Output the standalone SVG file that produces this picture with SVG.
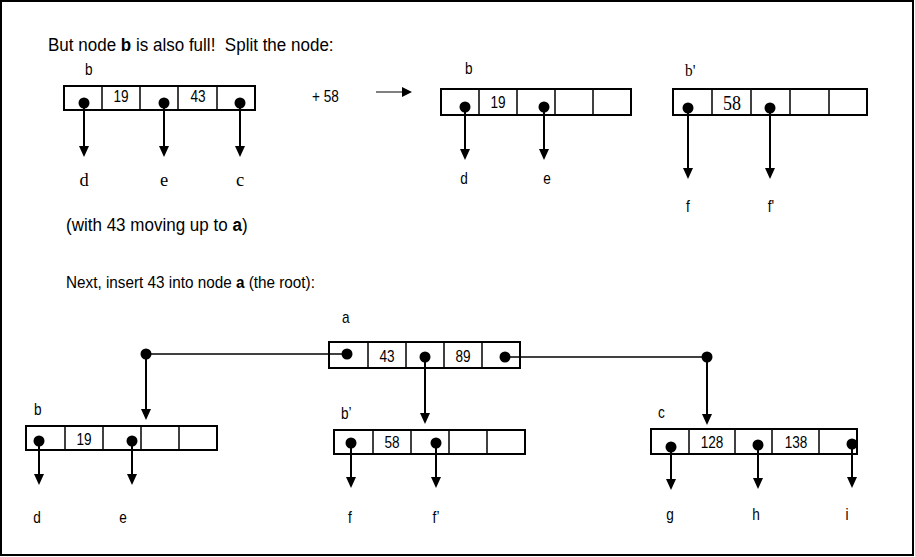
<svg xmlns="http://www.w3.org/2000/svg" width="915" height="557" viewBox="0 0 915 557">
<style>
.frame{fill:#fff;stroke:#000;stroke-width:2}
.box{fill:#fff;stroke:#000;stroke-width:2}
.div{stroke:#000;stroke-width:1.5}
.ptr{stroke:#000;stroke-width:2;fill:none;marker-end:url(#ah)}
.hl{stroke:#000;stroke-width:1.5;fill:none}
.dot{fill:#000}
.s{font-family:"Liberation Sans",Arial,sans-serif;fill:#000}
.t{font-family:"Liberation Serif","Times New Roman",serif;fill:#000}
.k{font-size:17px;text-anchor:middle}
.lb{font-size:16px}
.c{text-anchor:middle}
</style>
<defs>
<marker id="ah" markerUnits="userSpaceOnUse" markerWidth="11" markerHeight="11" refX="5" refY="5" orient="auto" viewBox="0 0 11 11">
<path d="M0,0 L11,5 L0,10 z" fill="#000"/>
</marker>
</defs>
<rect class="frame" x="1" y="1" width="912" height="554"/>
<text class="s" transform="translate(48,51) scale(0.92,1)" font-size="18.5" xml:space="preserve">But node <tspan font-weight="bold">b</tspan> is also full!  Split the node:</text>
<text class="s" transform="translate(66,231) scale(0.92,1)" font-size="18.5">(with 43 moving up to <tspan font-weight="bold">a</tspan>)</text>
<text class="s" transform="translate(66,288) scale(0.9,1)" font-size="17">Next, insert 43 into node <tspan font-weight="bold">a</tspan> (the root):</text>
<text class="s" transform="translate(312,102) scale(0.85,1)" font-size="16">+ 58</text>
<g id="split-arrow">
<line x1="376" y1="92" x2="403" y2="92" stroke="#808080" stroke-width="2"/>
<path d="M402,87 L412,92 L402,97 z" fill="#000"/>
</g>

<g id="node-b-full">
<text class="s lb" transform="translate(85,75) scale(0.85,1)">b</text>
<rect class="box" x="64" y="86" width="191" height="24"/>
<line class="div" x1="102" y1="86" x2="102" y2="110"/>
<line class="div" x1="140" y1="86" x2="140" y2="110"/>
<line class="div" x1="178" y1="86" x2="178" y2="110"/>
<line class="div" x1="217" y1="86" x2="217" y2="110"/>
<text class="s k" transform="translate(121,102) scale(0.8,1)">19</text>
<text class="s k" transform="translate(198,102) scale(0.8,1)">43</text>
<circle class="dot" cx="84" cy="103" r="5.5"/>
<circle class="dot" cx="164" cy="103" r="5.5"/>
<circle class="dot" cx="240" cy="103" r="5.5"/>
</g>
<g id="node-b-new">
<text class="s lb" transform="translate(465,74) scale(0.85,1)">b</text>
<rect class="box" x="441" y="89" width="190" height="26"/>
<line class="div" x1="479" y1="89" x2="479" y2="115"/>
<line class="div" x1="517" y1="89" x2="517" y2="115"/>
<line class="div" x1="555" y1="89" x2="555" y2="115"/>
<line class="div" x1="593" y1="89" x2="593" y2="115"/>
<text class="s k" transform="translate(498,108) scale(0.8,1)">19</text>
<circle class="dot" cx="465" cy="107" r="5.5"/>
<circle class="dot" cx="544" cy="107" r="5.5"/>
</g>
<g id="node-bp-new">
<text class="t" transform="translate(685,76) scale(0.9,1)" font-size="17">b'</text>
<rect class="box" x="673" y="89" width="194" height="26"/>
<line class="div" x1="712" y1="89" x2="712" y2="115"/>
<line class="div" x1="751" y1="89" x2="751" y2="115"/>
<line class="div" x1="790" y1="89" x2="790" y2="115"/>
<line class="div" x1="829" y1="89" x2="829" y2="115"/>
<text class="t c" transform="translate(732,110) scale(0.9,1)" font-size="20">58</text>
<circle class="dot" cx="688" cy="108" r="5.5"/>
<circle class="dot" cx="770" cy="108" r="5.5"/>
</g>

<g id="node-a">
<text class="s lb" transform="translate(342,323) scale(0.85,1)">a</text>
<rect class="box" x="329" y="342" width="191" height="26"/>
<line class="div" x1="368" y1="342" x2="368" y2="368"/>
<line class="div" x1="406" y1="342" x2="406" y2="368"/>
<line class="div" x1="444" y1="342" x2="444" y2="368"/>
<line class="div" x1="482" y1="342" x2="482" y2="368"/>
<text class="s k" transform="translate(387,362) scale(0.8,1)">43</text>
<text class="s k" transform="translate(463,362) scale(0.8,1)">89</text>
</g>
<g id="node-b">
<text class="s lb" transform="translate(34,415) scale(0.85,1)">b</text>
<rect class="box" x="26" y="426" width="191" height="24"/>
<line class="div" x1="65" y1="426" x2="65" y2="450"/>
<line class="div" x1="103" y1="426" x2="103" y2="450"/>
<line class="div" x1="141" y1="426" x2="141" y2="450"/>
<line class="div" x1="179" y1="426" x2="179" y2="450"/>
<text class="s k" transform="translate(84,445) scale(0.8,1)">19</text>
<circle class="dot" cx="39" cy="441" r="5.5"/>
<circle class="dot" cx="132" cy="441" r="5.5"/>
</g>
<g id="node-bp">
<text class="s lb" transform="translate(341,419) scale(0.85,1)">b’</text>
<rect class="box" x="334" y="430" width="191" height="24"/>
<line class="div" x1="373" y1="430" x2="373" y2="454"/>
<line class="div" x1="411" y1="430" x2="411" y2="454"/>
<line class="div" x1="449" y1="430" x2="449" y2="454"/>
<line class="div" x1="487" y1="430" x2="487" y2="454"/>
<text class="s k" transform="translate(392,448) scale(0.8,1)">58</text>
<circle class="dot" cx="351" cy="443" r="5.5"/>
<circle class="dot" cx="436" cy="443" r="5.5"/>
</g>
<g id="node-c">
<text class="s lb" transform="translate(658,418) scale(0.85,1)">c</text>
<rect class="box" x="651" y="429" width="206" height="25"/>
<line class="div" x1="689" y1="429" x2="689" y2="454"/>
<line class="div" x1="735" y1="429" x2="735" y2="454"/>
<line class="div" x1="772" y1="429" x2="772" y2="454"/>
<line class="div" x1="819" y1="429" x2="819" y2="454"/>
<text class="s k" transform="translate(712,448) scale(0.8,1)">128</text>
<text class="s k" transform="translate(796,448) scale(0.8,1)">138</text>
<circle class="dot" cx="671" cy="447" r="5.5"/>
<circle class="dot" cx="758" cy="445" r="5.5"/>
<circle class="dot" cx="852" cy="444" r="5.5"/>
</g>

<g id="leaves">
<text class="t c" x="84" y="186" font-size="18.5">d</text>
<text class="t c" x="164" y="186" font-size="18.5">e</text>
<text class="t c" x="240" y="186" font-size="18.5">c</text>
<text class="s lb c" transform="translate(464,184) scale(0.85,1)">d</text>
<text class="s lb c" transform="translate(547,184) scale(0.85,1)">e</text>
<text class="s lb c" transform="translate(688,212) scale(0.85,1)">f</text>
<text class="s lb c" transform="translate(771,212) scale(0.85,1)">f'</text>
<text class="s lb c" transform="translate(37,523) scale(0.85,1)">d</text>
<text class="s lb c" transform="translate(123,523) scale(0.85,1)">e</text>
<text class="s lb c" transform="translate(350,523) scale(0.85,1)">f</text>
<text class="s lb c" transform="translate(436,523) scale(0.85,1)">f’</text>
<text class="s lb c" transform="translate(670,520) scale(0.85,1)">g</text>
<text class="s lb c" transform="translate(756,520) scale(0.85,1)">h</text>
<text class="s lb c" transform="translate(847,520) scale(0.85,1)">i</text>
</g>

<g id="connectors">
<line class="ptr" x1="84" y1="103" x2="84" y2="151"/>
<line class="ptr" x1="164" y1="103" x2="164" y2="151"/>
<line class="ptr" x1="240" y1="103" x2="240" y2="151"/>
<line class="ptr" x1="465" y1="107" x2="465" y2="154"/>
<line class="ptr" x1="544" y1="107" x2="544" y2="154"/>
<line class="ptr" x1="688" y1="108" x2="688" y2="173"/>
<line class="ptr" x1="770" y1="108" x2="770" y2="173"/>
<line class="hl" x1="146" y1="354" x2="347" y2="354"/>
<circle class="dot" cx="146" cy="354" r="5.5"/>
<circle class="dot" cx="347" cy="354" r="5.5"/>
<line class="ptr" x1="146" y1="354" x2="146" y2="414"/>
<circle class="dot" cx="425" cy="357" r="5.5"/>
<line class="ptr" x1="425" y1="357" x2="425" y2="418"/>
<line class="hl" x1="505" y1="357" x2="707" y2="357"/>
<circle class="dot" cx="505" cy="357" r="5.5"/>
<circle class="dot" cx="707" cy="357" r="5.5"/>
<line class="ptr" x1="707" y1="357" x2="707" y2="419"/>
<line class="ptr" x1="39" y1="441" x2="39" y2="479"/>
<line class="ptr" x1="132" y1="441" x2="132" y2="479"/>
<line class="ptr" x1="351" y1="443" x2="351" y2="482"/>
<line class="ptr" x1="436" y1="443" x2="436" y2="482"/>
<line class="ptr" x1="671" y1="447" x2="671" y2="484"/>
<line class="ptr" x1="758" y1="445" x2="758" y2="483"/>
<line class="ptr" x1="852" y1="444" x2="852" y2="482"/>
</g>
</svg>
